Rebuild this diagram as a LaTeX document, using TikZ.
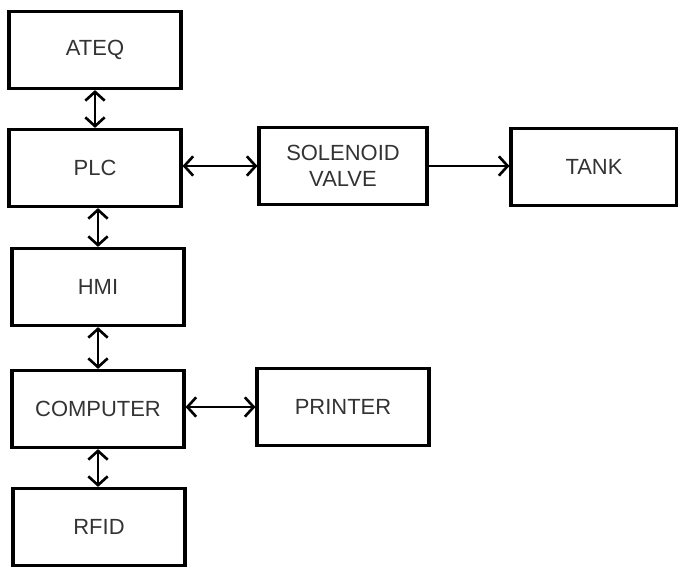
\documentclass[tikz,border=0pt]{standalone}
\usepackage{fontspec}
\setmainfont{Liberation Sans}
\usetikzlibrary{arrows.meta,positioning}

\begin{document}
\begin{tikzpicture}[x=0.02cm,y=-0.02cm,
  blok/.style={draw,line width=1.8pt,minimum width=3.44cm,minimum height=1.54cm,
    inner sep=0pt,align=center,font=\fontsize{12.5}{15}\selectfont,text=black!80},
  link/.style={line width=1.5pt,{Straight Barb[length=5pt,width=11pt]}-{Straight Barb[length=5pt,width=11pt]}},
  flow/.style={line width=1.5pt,-{Straight Barb[length=5pt,width=11pt]}}]
  \useasboundingbox (0,0) rectangle (678,567);
  % left column
  \node[blok] (ateq) at (95,50) {ATEQ};
  \node[blok] (plc) at (95,168) {PLC};
  \node[blok] (hmi) at (98,287) {HMI};
  \node[blok] (computer) at (98,409) {COMPUTER};
  \node[blok] (rfid) at (99,527) {RFID};
  % right side
  \node[blok,minimum width=3.36cm] (valve) at (343,166) {SOLENOID\\[0pt]VALVE};
  \node[blok,minimum width=3.32cm] (tank) at (594,167) {TANK};
  \node[blok] (printer) at (343,407) {PRINTER};
  % connections
  \draw[link] (ateq.south) -- (ateq.south |- plc.north);
  \draw[link] (plc.south -| hmi.north) -- (hmi.north);
  \draw[link] (hmi.south) -- (computer.north);
  \draw[link] (computer.south) -- (computer.south |- rfid.north);
  \draw[link] (plc.east |- valve.west) -- (valve.west);
  \draw[flow] (valve.east) -- (valve.east -| tank.west);
  \draw[link] (computer.east |- printer.west) -- (printer.west);
\end{tikzpicture}
\end{document}
